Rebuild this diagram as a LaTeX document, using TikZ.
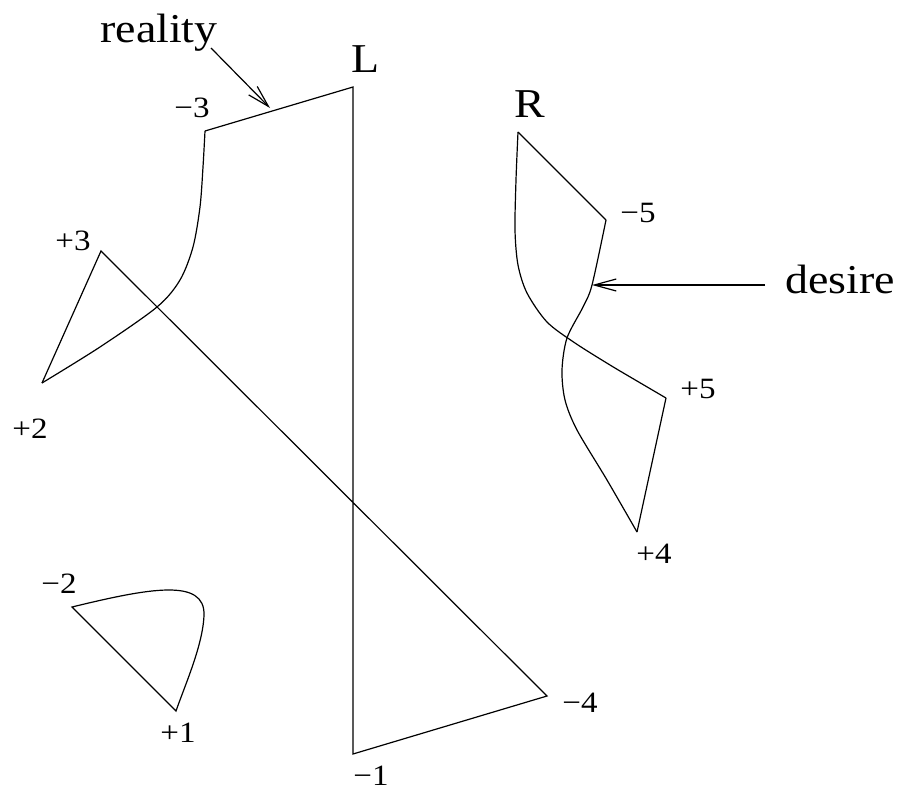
\documentclass[tikz,border=0pt]{standalone}
\usepackage{fontspec}
\setmainfont{Liberation Serif}
\usepackage{graphicx}
\usetikzlibrary{arrows.meta}
\newcommand{\wide}[1]{\scalebox{1.12}[1]{#1}}
\tikzset{
  edge/.style={line width=1.2pt, line join=miter},
  big/.style={font=\fontsize{41}{41}\selectfont, inner sep=0pt, anchor=base},
  small/.style={font=\fontsize{29.5}{29.5}\selectfont, inner sep=0pt, anchor=base},
  pointer/.style={line width=1.2pt, -{Straight Barb[length=22pt,width=12pt,line width=1.2pt]}},
}
\begin{document}
\begin{tikzpicture}[x=1pt,y=-1pt]
\useasboundingbox (0,0) rectangle (900,790);
% left polygon vertices
\coordinate (vL) at (353,87);
\coordinate (vm1) at (353,754);
\coordinate (vm4) at (547,696);
\coordinate (vp3) at (101,251);
\coordinate (vp2) at (42,383);
\coordinate (vm3) at (205,131);
% small triangle
\coordinate (vm2) at (72,607);
\coordinate (vp1) at (176,711);
% right polygon
\coordinate (vR) at (518,132);
\coordinate (vm5) at (606,220);
\coordinate (vp4) at (637,532);
\coordinate (vp5) at (666,398);
% arrows
\coordinate (rtail) at (211,48);
\coordinate (rtip) at (270,108);
\coordinate (dtail) at (765,285);
\coordinate (dtip) at (592,285);

% big polygon
\draw[edge] (vm3) -- (vL) -- (vm1) -- (vm4) -- (vp3) -- (vp2);
\draw[edge] plot[smooth, tension=0.5] coordinates {(42,383) (100,347) (157,307) (180,280) (193,247) (200,207) (203,167) (205,131)};

% small triangle
\draw[edge] (vm2) .. controls (150,588) and (205,578) .. (204,615)
  .. controls (203,645) and (185,685) .. (vp1) -- cycle;

% right polygon
\draw[edge] (vR) -- (vm5);
\draw[edge] plot[smooth, tension=0.5] coordinates {(606,220) (592,285) (583,307) (567,338) (562,370) (565,400) (577,430) (607,480) (637,532)};
\draw[edge] (vp4) -- (vp5);
\draw[edge] plot[smooth, tension=0.5] coordinates {(518,132) (516,180) (515,230) (518,265) (527,293) (547,322) (575,343) (610,365) (637,381) (666,398)};

% pointers
\draw[pointer] (rtail) -- (rtip);
\draw[pointer] (dtail) -- (dtip);

% labels
\node[big] (reality) at (159,42) {\wide{reality}};
\node[big] (desire) at (840,293) {\wide{desire}};
\node[big] (lL) at (366,72) {\wide{L}};
\node[big] (lR) at (530,117) {\wide{R}};
\node[small] (lm3) at (192,117) {\wide{−3}};
\node[small] (lp3) at (73,250) {\wide{+3}};
\node[small] (lp2) at (30,438) {\wide{+2}};
\node[small] (lm5) at (638,222) {\wide{−5}};
\node[small] (lp5) at (698,398) {\wide{+5}};
\node[small] (lp4) at (654,563) {\wide{+4}};
\node[small] (lm4) at (580,712) {\wide{−4}};
\node[small] (lm1) at (371,785) {\wide{−1}};
\node[small] (lp1) at (178,742) {\wide{+1}};
\node[small] (lm2) at (59,593) {\wide{−2}};
\end{tikzpicture}
\end{document}
